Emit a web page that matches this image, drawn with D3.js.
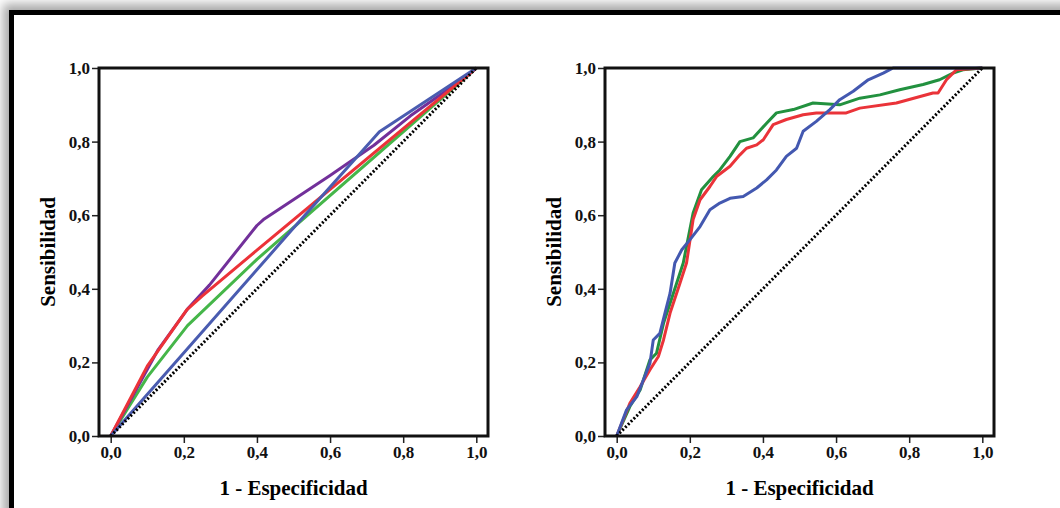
<!DOCTYPE html>
<html>
<head>
<meta charset="utf-8">
<script src="https://cdn.jsdelivr.net/npm/d3@7"></script>
<style>
  html, body { margin: 0; padding: 0; background: #fff; overflow: hidden; }
  #frame {
    position: absolute; left: 9px; top: 10px; width: 1100px; height: 600px;
    border: 5px solid #000; background: #fff;
    box-shadow: -3px -3px 10px 3px rgba(0,0,0,0.35);
  }
  svg { position: absolute; left: 0; top: 0; }
</style>
</head>
<body>
<div id="frame"></div>
<div id="chart"></div>
<script>
// tick values for both axes
const ticks = [0, 0.2, 0.4, 0.6, 0.8, 1.0];

// left panel curves (1 - specificity, sensitivity)
const leftGreen  = [[0,0],[0.1,0.16],[0.21,0.30],[0.4,0.48],[1,1]];
const leftPurple = [[0,0],[0.13,0.235],[0.21,0.345],[0.27,0.41],[0.4,0.572],[0.42,0.59],[0.6,0.708],[0.72,0.79],[0.82,0.87],[0.97,0.975],[1,1]];
const leftRed    = [[0,0],[0.1,0.19],[0.208,0.343],[0.25,0.38],[0.4,0.505],[1,1]];
const leftBlue   = [[0,0],[0.5,0.565],[0.735,0.827],[1,1]];

// right panel curves
const rightGreen = [[0,0],[0.036,0.08],[0.064,0.125],[0.091,0.207],[0.109,0.225],[0.128,0.306],[0.155,0.388],
  [0.182,0.47],[0.209,0.606],[0.232,0.669],[0.264,0.705],[0.282,0.723],[0.31,0.76],[0.337,0.8],[0.373,0.81],
  [0.41,0.85],[0.437,0.878],[0.483,0.887],[0.537,0.905],[0.61,0.9],[0.665,0.918],[0.72,0.927],[0.774,0.941],
  [0.838,0.955],[0.883,0.968],[0.92,0.986],[0.947,0.995],[1,1]];
const rightRed = [[0,0],[0.036,0.089],[0.064,0.134],[0.091,0.18],[0.114,0.216],[0.128,0.261],[0.146,0.334],
  [0.173,0.415],[0.191,0.47],[0.209,0.588],[0.228,0.642],[0.255,0.678],[0.273,0.705],[0.31,0.733],[0.337,0.764],
  [0.355,0.782],[0.383,0.791],[0.401,0.805],[0.428,0.846],[0.464,0.86],[0.51,0.873],[0.546,0.878],[0.628,0.878],
  [0.665,0.891],[0.765,0.905],[0.865,0.932],[0.879,0.932],[0.902,0.968],[0.929,0.995],[1,1]];
const rightBlue = [[0,0],[0.027,0.071],[0.055,0.107],[0.073,0.152],[0.091,0.198],[0.1,0.261],[0.118,0.279],
  [0.132,0.334],[0.146,0.388],[0.159,0.47],[0.178,0.506],[0.2,0.533],[0.228,0.569],[0.255,0.615],[0.282,0.633],
  [0.31,0.646],[0.346,0.651],[0.383,0.674],[0.41,0.696],[0.437,0.723],[0.464,0.76],[0.492,0.782],[0.51,0.828],
  [0.546,0.855],[0.583,0.887],[0.61,0.914],[0.647,0.937],[0.688,0.968],[0.729,0.986],[0.756,1],[1,1]];

const diagonal = [[0,0],[1,1]];

const width = 1060, height = 508;
const svg = d3.select("#chart").append("svg")
  .attr("width", width)
  .attr("height", height);

const fmt = d => d3.format(".1f")(d).replace(".", ",");

// draws one ROC panel, offset horizontally by dx
function panel(dx, series) {
  let x = d3.scaleLinear().domain([-0.032, 1.032]).range([99 + dx, 488 + dx]);
  let y = d3.scaleLinear().domain([0, 1]).range([436, 68]);
  let g = svg.append("g");

  let line = d3.line().x(d => x(d[0])).y(d => y(d[1]));

  series.forEach(s => {
    g.append("path")
      .attr("d", line(s.data))
      .attr("fill", "none")
      .attr("stroke", s.color)
      .attr("stroke-width", 3)
      .attr("stroke-linejoin", "round");
  });

  // reference diagonal
  g.append("path")
    .attr("d", line(diagonal))
    .attr("fill", "none")
    .attr("stroke", "#000")
    .attr("stroke-width", 3)
    .attr("stroke-dasharray", "2,2");

  // axes
  let xAxis = g.append("g")
    .attr("transform", "translate(0,436)")
    .call(d3.axisBottom(x).tickValues(ticks).tickFormat(fmt).tickSize(7).tickPadding(3));
  let yAxis = g.append("g")
    .attr("transform", `translate(${99 + dx},0)`)
    .call(d3.axisLeft(y).tickValues(ticks).tickFormat(fmt).tickSize(7).tickPadding(2));
  [xAxis, yAxis].forEach(a => {
    a.select(".domain").remove();
    a.selectAll("line").attr("stroke", "#222").attr("stroke-width", 1.5);
    a.selectAll("text")
      .attr("fill", "#111")
      .style("font-family", "'Liberation Serif', serif")
      .style("font-weight", "bold")
      .style("font-size", "17px");
  });

  // plot frame
  g.append("rect")
    .attr("x", 99 + dx).attr("y", 68)
    .attr("width", 389).attr("height", 368)
    .attr("fill", "none")
    .attr("stroke", "#111")
    .attr("stroke-width", 3);

  // titles
  g.append("text")
    .attr("x", 293.5 + dx).attr("y", 495)
    .attr("text-anchor", "middle")
    .style("font-family", "'Liberation Serif', serif")
    .style("font-weight", "bold")
    .style("font-size", "21px")
    .text("1 - Especificidad");
  g.append("text")
    .attr("transform", `translate(${55 + dx},252) rotate(-90)`)
    .attr("text-anchor", "middle")
    .style("font-family", "'Liberation Serif', serif")
    .style("font-weight", "bold")
    .style("font-size", "21px")
    .text("Sensibilidad");
}

panel(0, [
  {data: leftGreen, color: "#45b649"},
  {data: leftPurple, color: "#72309a"},
  {data: leftRed, color: "#ec3238"},
  {data: leftBlue, color: "#4a5cb0"}
]);

panel(506, [
  {data: rightGreen, color: "#22913f"},
  {data: rightRed, color: "#ea3339"},
  {data: rightBlue, color: "#4358b0"}
]);
</script>
</body>
</html>
